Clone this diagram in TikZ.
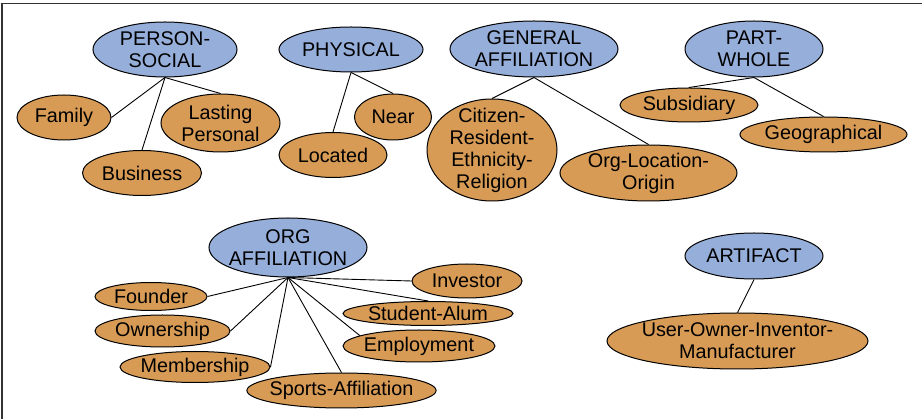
\documentclass[tikz,border=0pt]{standalone}
\usepackage{fontspec}
\setmainfont{Liberation Sans}
\usepackage{xcolor}
\definecolor{relBlue}{RGB}{150,174,218}
\definecolor{subOrange}{RGB}{215,155,85}
\usepackage{tikz}
\usetikzlibrary{shapes.geometric}
\tikzset{
  relnode/.style={ellipse,draw=black,line width=1pt,fill=relBlue,
    inner sep=-5pt,align=center,font=\fontsize{19.8}{22}\selectfont},
  subnode/.style={ellipse,draw=black,line width=1pt,fill=subOrange,
    inner sep=-5pt,align=center,font=\fontsize{19.8}{22}\selectfont},
  link/.style={draw=black,line width=0.9pt}
}

\begin{document}
\begin{tikzpicture}[x=1pt,y=-1pt]
  \useasboundingbox (0,0) rectangle (922,419);
  \draw[black!80,line width=1.6pt] (2,419) -- (2,3.5) -- (922,3.5);

  \node[relnode, minimum width=144, minimum height=55] (ps) at (165,49.5) {PERSON-\\SOCIAL};
  \node[subnode, minimum width=94, minimum height=45] (family) at (64,117.5) {Family};
  \node[subnode, minimum width=119, minimum height=58] (lasting) at (220.5,123) {Lasting\\Personal};
  \node[subnode, minimum width=119, minimum height=45] (business) at (142,173) {Business};

  \node[relnode, minimum width=144, minimum height=45] (phys) at (351,49.5) {PHYSICAL};
  \node[subnode, minimum width=77, minimum height=46] (near) at (393,117) {Near};
  \node[subnode, minimum width=108, minimum height=45] (located) at (333,155) {Located};

  \node[relnode, minimum width=168, minimum height=56] (genaff) at (534,49) {GENERAL\\AFFILIATION};
  \node[subnode, minimum width=130, minimum height=102, inner ysep=-9pt] (citizen) at (492,150)
    {Citizen-\\Resident-\\Ethnicity-\\Religion};
  \node[subnode, minimum width=177, minimum height=56] (orgloc) at (648.5,173) {Org-Location-\\Origin};

  \node[relnode, minimum width=138, minimum height=56] (partwhole) at (754,49) {PART-\\WHOLE};
  \node[subnode, minimum width=138, minimum height=34] (subsid) at (689,105) {Subsidiary};
  \node[subnode, minimum width=167, minimum height=35] (geo) at (823.5,134.5) {Geographical};

  \node[relnode, minimum width=158, minimum height=59] (orgaff) at (288,247.5) {ORG\\AFFILIATION};
  \node[subnode, minimum width=112, minimum height=28] (founder) at (151,296.5) {Founder};
  \node[subnode, minimum width=135, minimum height=32] (owner) at (162.5,331) {Ownership};
  \node[subnode, minimum width=150, minimum height=31] (member) at (195,367) {Membership};
  \node[subnode, minimum width=187, minimum height=35] (sports) at (341.5,390.5) {Sports-Affiliation};
  \node[subnode, minimum width=110, minimum height=34] (investor) at (467,281) {Investor};
  \node[subnode, minimum width=170, minimum height=24] (student) at (428,313.5) {Student-Alum};
  \node[subnode, minimum width=152, minimum height=32] (employ) at (419,346) {Employment};

  \node[relnode, minimum width=138, minimum height=46] (artifact) at (754,256) {ARTIFACT};
  \node[subnode, minimum width=261, minimum height=56] (uoim) at (737.5,341) {User-Owner-Inventor-\\Manufacturer};

  \draw[link] (ps.south) -- (family.east);
  \draw[link] (ps.south) -- (business.north);
  \draw[link] (ps.south) -- (lasting.north);
  \draw[link] (phys.south) -- (located.north);
  \draw[link] (phys.south) -- (near.north);
  \draw[link] (genaff.south) -- (citizen.north);
  \draw[link] (genaff.south) -- (orgloc.north);
  \draw[link] (partwhole.south) -- (subsid.north);
  \draw[link] (partwhole.south) -- (geo.north);
  \draw[link] (orgaff.south) -- (founder.east);
  \draw[link] (orgaff.south) -- (owner.east);
  \draw[link] (orgaff.south) -- (member.east);
  \draw[link] (orgaff.south) -- (sports.north);
  \draw[link] (orgaff.south) -- (employ.170);
  \draw[link] (orgaff.south) -- (student.north);
  \draw[link] (orgaff.south) -- (investor.west);
  \draw[link] (artifact.south) -- (uoim.north);
\end{tikzpicture}
\end{document}
